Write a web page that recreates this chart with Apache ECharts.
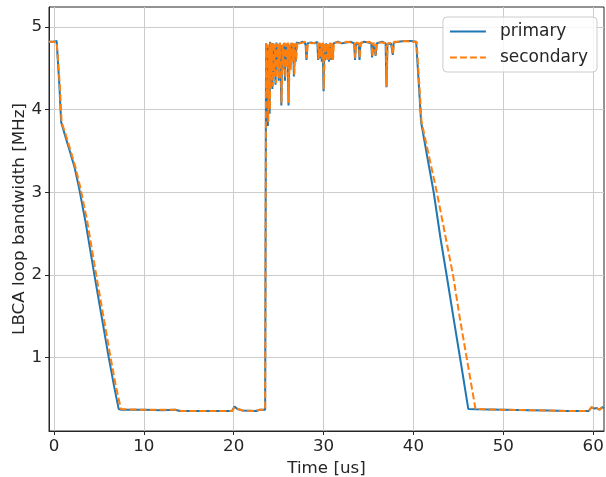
<!DOCTYPE html>
<html>
<head>
<meta charset="utf-8">
<script src="https://cdn.jsdelivr.net/npm/echarts@6/dist/echarts.min.js"></script>
<style>html,body{margin:0;padding:0;background:#fff}#c{width:606px;height:477px}</style>
</head>
<body>
<div id="c"></div>
<script>
var xTicks = [0, 10, 20, 30, 40, 50, 60];
var yTicks = [1, 2, 3, 4, 5];

var primaryTime = [
  -0.55, 0.0, 0.3, 0.45, 0.6, 0.8, 1.2, 1.7, 2.3, 2.8, 3.5, 4.5, 5.3, 6.1, 6.7, 7.2, 7.5,
  8, 10, 12, 13.5, 14, 17, 19.8, 20.1, 20.4, 21, 22.5, 22.9, 23.5,
  23.6, 23.7, 23.75, 23.8, 23.9, 24.0, 24.05, 24.15, 24.2, 24.3, 24.4, 24.5, 24.55, 24.65, 24.75, 24.85, 24.9,
  25.0, 25.1, 25.2, 25.3, 25.4, 25.5, 25.6, 25.7, 25.8, 25.9, 26.0, 26.1, 26.2, 26.3, 26.4, 26.5, 26.6, 26.7, 26.8, 26.9,
  27.0, 27.3, 27.6, 27.9, 28.0, 28.1, 28.2, 28.6, 29.0, 29.3, 29.4, 29.5, 29.6, 29.7, 29.8, 29.9,
  30.0, 30.1, 30.2, 30.3, 30.4, 30.5, 30.6, 30.7, 30.8, 30.9, 31.0, 31.1, 31.2, 31.6, 32.0, 32.5, 33.0, 33.4, 33.5, 33.6, 33.9,
  34.0, 34.1, 34.5, 35.0, 35.3, 35.4, 35.5, 35.7, 35.8, 35.9, 36.5, 36.9, 37.0, 37.1, 37.5, 37.7, 37.8, 38.3, 39.0, 39.7, 40.3,
  40.4, 40.6, 40.85, 41.5, 42.25, 43.0, 43.7, 44.5, 45.3, 46.1,
  47, 50, 53, 55, 57, 59.5, 59.8, 60.1, 60.4, 60.7, 61.0, 61.2
];
var primaryValue = [
  4.82, 4.82, 4.83, 4.82, 4.30, 3.85, 3.70, 3.52, 3.30, 3.05, 2.65, 2.00, 1.50, 1.00, 0.65, 0.38, 0.37,
  0.37, 0.37, 0.365, 0.37, 0.355, 0.355, 0.355, 0.41, 0.38, 0.36, 0.355, 0.37, 0.37,
  4.80, 4.10, 4.78, 3.80, 4.75, 3.95, 4.82, 4.40, 4.80, 4.25, 4.80, 4.45, 4.78, 4.30, 4.81, 4.55, 4.78,
  4.35, 4.80, 4.60, 4.05, 4.78, 4.50, 4.80, 4.35, 4.79, 4.55, 4.80, 4.05, 4.78, 4.50, 4.80, 4.60, 4.80, 4.40, 4.79, 4.58,
  4.81, 4.80, 4.82, 4.81, 4.78, 4.60, 4.80, 4.81, 4.80, 4.82, 4.60, 4.80, 4.62, 4.79, 4.58, 4.80,
  4.22, 4.79, 4.60, 4.80, 4.62, 4.78, 4.58, 4.80, 4.60, 4.79, 4.62, 4.80, 4.81, 4.82, 4.80, 4.81, 4.82, 4.80, 4.60, 4.80, 4.79,
  4.60, 4.80, 4.82, 4.81, 4.80, 4.63, 4.80, 4.79, 4.65, 4.80, 4.82, 4.80, 4.27, 4.79, 4.80, 4.66, 4.81, 4.82, 4.83, 4.83, 4.82,
  4.80, 4.30, 3.85, 3.45, 3.00, 2.45, 1.99, 1.45, 0.92, 0.38,
  0.375, 0.37, 0.365, 0.36, 0.355, 0.355, 0.40, 0.385, 0.39, 0.37, 0.40, 0.39
];

var secondaryTime = [
  -0.55, 0.0, 0.3, 0.5, 0.65, 0.85, 1.3, 1.8, 2.4, 2.95, 3.7, 4.7, 5.5, 6.3, 6.9, 7.45, 7.7,
  8, 10, 12, 13.5, 14.2, 17, 19.8, 20.1, 20.4, 21, 22.5, 22.9, 23.5,
  23.6, 23.68, 23.78, 23.85, 23.95, 24.02, 24.1, 24.18, 24.25, 24.35, 24.45, 24.52, 24.6, 24.7, 24.8, 24.88, 24.95,
  25.05, 25.15, 25.25, 25.32, 25.45, 25.55, 25.65, 25.75, 25.85, 25.95, 26.05, 26.12, 26.25, 26.35, 26.45, 26.55, 26.65, 26.75, 26.85, 26.95,
  27.1, 27.4, 27.7, 27.95, 28.05, 28.12, 28.25, 28.7, 29.1, 29.35, 29.45, 29.55, 29.65, 29.75, 29.85, 29.95,
  30.02, 30.15, 30.25, 30.35, 30.45, 30.55, 30.65, 30.75, 30.85, 30.95, 31.05, 31.15, 31.25, 31.7, 32.1, 32.6, 33.1, 33.45, 33.52, 33.65, 33.95,
  34.02, 34.15, 34.6, 35.1, 35.35, 35.42, 35.55, 35.75, 35.82, 35.95, 36.6, 36.95, 37.02, 37.12, 37.55, 37.72, 37.85, 38.4, 39.1, 39.8, 40.35,
  40.45, 40.65, 40.9, 41.7, 42.6, 43.5, 44.4, 45.2, 46.0, 46.9,
  48, 50, 53, 55, 57, 59.5, 59.8, 60.1, 60.4, 60.7, 61.0, 61.2
];
var secondaryValue = [
  4.82, 4.82, 4.82, 4.82, 4.30, 3.85, 3.70, 3.52, 3.30, 3.05, 2.65, 2.00, 1.50, 1.00, 0.65, 0.38, 0.375,
  0.375, 0.37, 0.37, 0.37, 0.355, 0.355, 0.355, 0.40, 0.385, 0.36, 0.355, 0.37, 0.37,
  4.80, 4.20, 4.79, 3.85, 4.76, 4.00, 4.81, 4.35, 4.80, 4.28, 4.81, 4.40, 4.79, 4.32, 4.80, 4.50, 4.79,
  4.38, 4.81, 4.55, 4.08, 4.79, 4.48, 4.81, 4.38, 4.80, 4.52, 4.81, 4.08, 4.79, 4.48, 4.81, 4.58, 4.80, 4.42, 4.80, 4.60,
  4.82, 4.80, 4.81, 4.82, 4.79, 4.62, 4.81, 4.80, 4.81, 4.82, 4.61, 4.81, 4.63, 4.80, 4.60, 4.81,
  4.25, 4.80, 4.62, 4.81, 4.60, 4.79, 4.60, 4.81, 4.62, 4.80, 4.60, 4.81, 4.82, 4.81, 4.80, 4.82, 4.81, 4.80, 4.62, 4.81, 4.80,
  4.62, 4.81, 4.81, 4.82, 4.80, 4.64, 4.81, 4.80, 4.66, 4.81, 4.81, 4.80, 4.28, 4.80, 4.81, 4.67, 4.82, 4.82, 4.83, 4.82, 4.82,
  4.80, 4.30, 3.85, 3.45, 3.00, 2.50, 2.00, 1.45, 0.95, 0.38,
  0.375, 0.37, 0.365, 0.36, 0.355, 0.355, 0.40, 0.385, 0.39, 0.37, 0.40, 0.39
];

function pairs(t, v) { return t.map(function (x, i) { return [x, v[i]]; }); }

var txt = '#262626';
var fs = 16.7;
var font = 'DejaVu Sans';
var chart = echarts.init(document.getElementById('c'), null, { renderer: 'canvas' });
chart.setOption({
  animation: false,
  backgroundColor: '#ffffff',
  grid: { left: 49, right: 2, top: 7, bottom: 46, show: true, borderColor: '#262626', borderWidth: 1, backgroundColor: 'transparent', containLabel: false, outerBoundsMode: 'none' },
  legend: {
    orient: 'vertical', right: 9, top: 17,
    padding: [6, 9, 6, 6], itemGap: 9, itemWidth: 36, itemHeight: 17,
    backgroundColor: 'rgba(255,255,255,0.8)', borderColor: '#cccccc', borderWidth: 1, borderRadius: 4,
    itemStyle: { opacity: 0 },
    textStyle: { fontFamily: font, fontSize: 17, color: txt, padding: [0, 0, 0, 9] },
    data: ['primary', 'secondary']
  },
  xAxis: {
    type: 'value', min: -0.55, max: 61.2,
    name: 'Time [us]', nameLocation: 'middle', nameGap: 27,
    nameTextStyle: { fontFamily: font, fontSize: fs, color: txt },
    axisLine: { show: true, onZero: false, lineStyle: { color: '#262626', width: 1 } },
    axisTick: { show: true, length: 4, lineStyle: { color: '#262626' }, customValues: xTicks },
    axisLabel: { fontFamily: font, fontSize: fs, color: txt, margin: 7, customValues: xTicks, formatter: function (v) { return String(v); } },
    splitLine: { show: true, lineStyle: { color: '#cccccc', width: 1 } }
  },
  yAxis: {
    type: 'value', min: 0.113, max: 5.24,
    name: 'LBCA loop bandwidth [MHz]', nameLocation: 'middle', nameGap: 21, nameMoveOverlap: false,
    nameTextStyle: { fontFamily: font, fontSize: fs, color: txt },
    axisLine: { show: true, onZero: false, lineStyle: { color: '#262626', width: 1 } },
    axisTick: { show: true, length: 4, lineStyle: { color: '#262626' }, customValues: yTicks },
    axisLabel: { fontFamily: font, fontSize: fs, color: txt, margin: 7, customValues: yTicks, formatter: function (v) { return String(v); } },
    splitLine: { show: true, lineStyle: { color: '#cccccc', width: 1 } }
  },
  series: [
    {
      name: 'primary', type: 'line', symbol: 'none', data: pairs(primaryTime, primaryValue),
      lineStyle: { color: '#1f77b4', width: 2 }, itemStyle: { color: '#1f77b4' }
    },
    {
      name: 'secondary', type: 'line', symbol: 'none', data: pairs(secondaryTime, secondaryValue),
      lineStyle: { color: '#ff7f0e', width: 2, type: [7, 3] }, itemStyle: { color: '#ff7f0e' }
    }
  ]
});
</script>
</body>
</html>
